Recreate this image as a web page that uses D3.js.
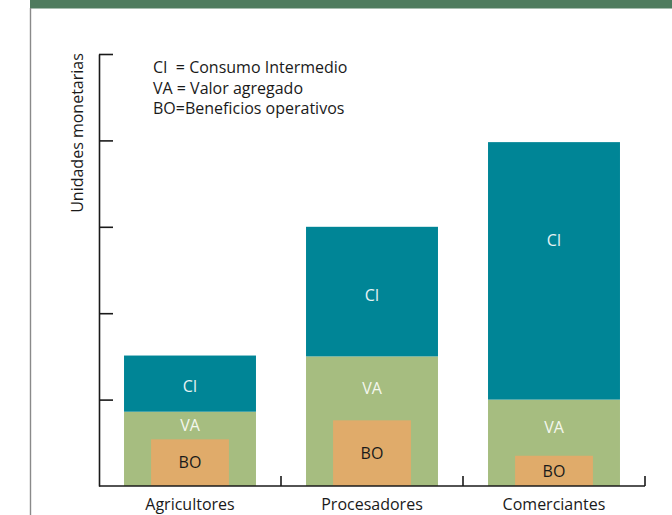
<!DOCTYPE html>
<html>
<head>
<meta charset="utf-8">
<script src="https://cdn.jsdelivr.net/npm/d3@7"></script>
<style>
  html, body { margin: 0; padding: 0; background: #fff; }
  svg { display: block; font-family: "Open Sans", "Noto Sans", sans-serif; }
</style>
</head>
<body>
<svg id="chart" width="672" height="515"></svg>
<script>
// ---- data ----
const categories = ["Agricultores", "Procesadores", "Comerciantes"];
const vaValues = [0.86, 1.5, 1.0];        // Valor agregado (bottom segment)
const ciValues = [0.65, 1.5, 2.98];       // Consumo intermedio (stacked on VA)
const boValues = [0.54, 0.76, 0.35];      // Beneficios operativos (inside VA)
const ciLabelValues = [1.16, 2.21, 2.84]; // where the "CI" text sits
const yTicks = [1, 2, 3, 4, 5];
const legendLines = ["CI  = Consumo Intermedio", "VA = Valor agregado", "BO=Beneficios operativos"];
const yTitle = "Unidades monetarias";

// ---- setup ----
const svg = d3.select("#chart");
const colors = { ci: "#008596", va: "#A6BD80", bo: "#E0AB6A", header: "#4F7B5E" };
const fs = 16;

// header band and left rule
svg.append("rect").attr("x", 30).attr("y", 0).attr("width", 642).attr("height", 8.5).attr("fill", colors.header);
svg.append("line").attr("x1", 30.5).attr("x2", 30.5).attr("y1", 8).attr("y2", 515)
  .attr("stroke", "#8a8a8a").attr("stroke-width", 1.4);

const x = d3.scaleBand().domain(categories).range([99, 645]).paddingInner(0.275).paddingOuter(0.1375);
const y = d3.scaleLinear().domain([0, 5]).range([486, 54]);

const data = categories.map((c, i) => ({
  cat: c, va: vaValues[i], ci: ciValues[i], bo: boValues[i], ciLab: ciLabelValues[i]
}));

const g = svg.append("g");
// VA segment
g.selectAll("rect.va").data(data).join("rect").attr("class", "va")
  .attr("x", d => x(d.cat)).attr("width", x.bandwidth())
  .attr("y", d => y(d.va)).attr("height", d => y(0) - y(d.va))
  .attr("fill", colors.va);
// CI segment
g.selectAll("rect.ci").data(data).join("rect").attr("class", "ci")
  .attr("x", d => x(d.cat)).attr("width", x.bandwidth())
  .attr("y", d => y(d.va + d.ci)).attr("height", d => y(d.va) - y(d.va + d.ci))
  .attr("fill", colors.ci);
// BO inner rect
const boW = x.bandwidth() * 0.59;
g.selectAll("rect.bo").data(data).join("rect").attr("class", "bo")
  .attr("x", d => x(d.cat) + (x.bandwidth() - boW) / 2).attr("width", boW)
  .attr("y", d => y(d.bo)).attr("height", d => y(0) - y(d.bo))
  .attr("fill", colors.bo);

// segment labels
const cx = d => x(d.cat) + x.bandwidth() / 2;
g.selectAll("text.cil").data(data).join("text")
  .attr("x", cx).attr("y", d => y(d.ciLab)).attr("dy", "0.36em")
  .attr("text-anchor", "middle").attr("fill", "#e6f2f3").attr("font-size", fs).text("CI");
g.selectAll("text.val").data(data).join("text")
  .attr("x", cx).attr("y", d => y((d.bo + d.va) / 2)).attr("dy", "0.36em")
  .attr("text-anchor", "middle").attr("fill", "#f4f7ee").attr("font-size", fs).text("VA");
g.selectAll("text.bol").data(data).join("text")
  .attr("x", cx).attr("y", d => y(d.bo / 2)).attr("dy", "0.36em")
  .attr("text-anchor", "middle").attr("fill", "#1a1a1a").attr("font-size", fs).text("BO");

// y axis: line with inward ticks
const yAxis = d3.axisRight(y).tickValues(yTicks).tickSize(14).tickFormat("").tickSizeOuter(0);
const ya = svg.append("g").attr("transform", "translate(99,0)").call(yAxis);
ya.select(".domain").attr("stroke", "#1a1a1a").attr("stroke-width", 1.6);
ya.selectAll(".tick line").attr("stroke", "#1a1a1a").attr("stroke-width", 1.6);

// x axis: baseline with upward ticks at band boundaries
const boundaries = categories.map((c, i) => x(c) + x.bandwidth() + x.step() * x.paddingInner() / 2);
const xa = svg.append("g");
xa.append("line").attr("x1", 99).attr("x2", boundaries[boundaries.length - 1])
  .attr("y1", y(0)).attr("y2", y(0)).attr("stroke", "#1a1a1a").attr("stroke-width", 1.6);
xa.selectAll("line.t").data(boundaries).join("line").attr("class", "t")
  .attr("x1", d => d).attr("x2", d => d).attr("y1", y(0)).attr("y2", y(0) - 10)
  .attr("stroke", "#1a1a1a").attr("stroke-width", 1.6);
xa.selectAll("text").data(categories).join("text")
  .attr("x", d => x(d) + x.bandwidth() / 2).attr("y", 510)
  .attr("text-anchor", "middle").attr("font-size", fs).attr("fill", "#1a1a1a").text(d => d);

// y title
svg.append("text").attr("transform", "translate(83,133) rotate(-90)")
  .attr("text-anchor", "middle").attr("font-size", fs).attr("fill", "#1a1a1a").text(yTitle);

// legend text
svg.append("g").selectAll("text").data(legendLines).join("text")
  .attr("x", 153).attr("y", (d, i) => 73 + i * 20.5)
  .attr("font-size", fs).attr("fill", "#1a1a1a").attr("xml:space", "preserve")
  .style("white-space", "pre").text(d => d);
</script>
</body>
</html>
